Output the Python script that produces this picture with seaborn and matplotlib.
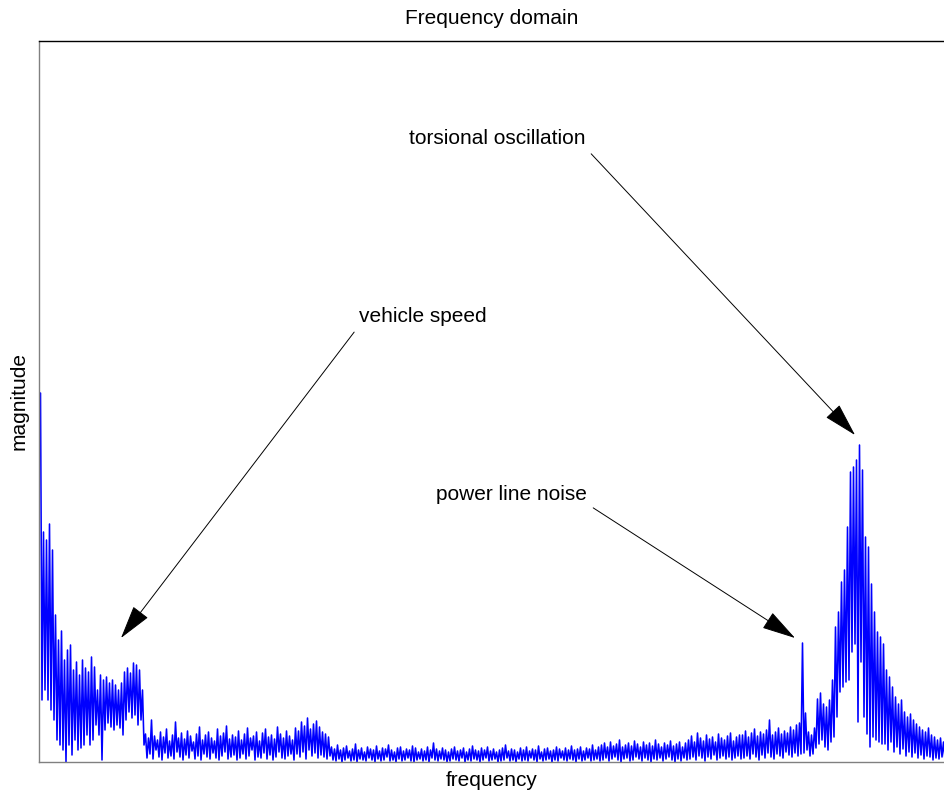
import numpy as np
import pandas as pd
import matplotlib
matplotlib.use("Agg")
import matplotlib.pyplot as plt
import seaborn as sns

# ---- data (magnitude in arbitrary units) ----
# upper (peak) and lower (trough) values of the spectrum, one pair per bin-group
low_band_tops = [369, 230, 222, 238, 212, 147, 122, 131, 102, 112, 117, 92, 100, 87, 102, 94, 90, 105]
low_band_bottoms = [62, 72, 62, 52, 42, 22, 17, 12, 0, 17, 7, 22, 12, 14, 17, 27, 17, 22]

speed_bump_tops = [95, 72, 87, 82, 85, 79, 82, 77, 72, 79, 90, 94, 89, 99, 97, 92, 72]
speed_bump_bottoms = [37, 27, 2, 32, 39, 35, 32, 37, 34, 27, 42, 50, 44, 47, 37, 42, 17]

floor1_tops = [28, 24, 42, 26, 22, 30, 25, 33, 21, 27, 40, 24, 29, 23, 31, 26, 20, 28, 35, 22,
               27, 30, 24, 21, 33, 26, 29, 36, 23, 27, 25, 31, 22, 28, 34, 24, 26, 30, 21, 29,
               33, 25, 27, 23, 35, 28, 24, 31, 26, 22]
floor1_bottoms = [4, 8, 3, 12, 5, 2, 9, 4, 6, 3, 10, 5, 2, 7, 4, 11, 3, 6, 2, 8,
                  5, 3, 9, 4, 2, 6, 10, 3, 5, 7, 2, 4, 8, 3, 6, 12, 2, 5, 4, 9,
                  3, 7, 2, 5, 10, 4, 3, 6, 8, 2]

mid_bump_tops = [34, 31, 40, 36, 44, 33, 38, 41, 35, 30, 28, 25]
mid_bump_bottoms = [8, 5, 10, 3, 12, 6, 9, 4, 7, 5, 3, 6]

floor2_tops = [15, 13, 17, 12, 14, 16, 11, 13, 18, 12, 14, 10, 15, 13, 12, 16, 11, 14, 13, 17,
               12, 10, 14, 15, 11, 13, 12, 16, 14, 10, 13, 11, 15, 12, 19, 13, 11, 14, 12, 10,
               13, 15, 11, 12, 14, 10, 13, 16, 12, 11, 14, 12, 15, 11, 13, 10, 12, 14, 17, 11,
               13, 12, 10, 14, 12, 15, 11, 13, 12, 16, 10, 13, 14, 11, 12, 15, 13, 11, 14, 12,
               16, 12, 13, 15, 11, 14, 13, 17, 12, 15]
floor2_bottoms = [2, 1, 3, 0, 2, 4, 1, 2, 0, 3, 2, 1, 4, 2, 0, 3, 1, 2, 5, 1,
                  2, 0, 3, 1, 2, 4, 1, 0, 2, 3, 1, 2, 0, 4, 2, 1, 3, 2, 0, 1,
                  3, 2, 1, 4, 0, 2, 1, 3, 2, 0, 2, 4, 1, 2, 3, 0, 1, 2, 4, 1,
                  2, 0, 3, 1, 2, 1, 4, 2, 0, 3, 1, 2, 3, 0, 2, 1, 4, 2, 1, 3,
                  2, 0, 3, 1, 2, 4, 1, 2, 3, 1]

rise1_tops = [17, 19, 15, 20, 16, 18, 22, 15, 17, 19, 16, 21, 18, 15, 20, 17, 19, 16, 22, 18,
              15, 19, 17, 21, 16, 18, 20, 15, 19]
rise1_bottoms = [2, 4, 1, 3, 5, 2, 0, 3, 4, 1, 2, 5, 3, 1, 4, 2, 0, 3, 2, 4,
                 1, 3, 5, 2, 0, 3, 1, 4, 2]

rise2_tops = [22, 26, 20, 29, 24, 21, 27, 23, 25, 20, 28, 24, 22, 26, 29, 21, 25, 27]
rise2_bottoms = [3, 5, 2, 6, 4, 1, 5, 3, 7, 2, 4, 6, 3, 5, 2, 4, 6, 3]

rise3_tops = [27, 31, 25, 29, 33, 26, 30, 28, 32, 42, 27, 30, 34, 28, 31, 29, 35, 32, 37, 39]
rise3_bottoms = [4, 6, 3, 8, 5, 2, 7, 4, 9, 5, 3, 8, 6, 4, 10, 7, 5, 9, 6, 8]

power_line_tops = [119, 49, 30, 27, 34, 63, 69, 58, 55, 62, 82, 135]
power_line_bottoms = [9, 12, 6, 8, 14, 18, 22, 15, 12, 20, 25, 45]

torsion_tops = [150, 180, 192, 235, 290, 295, 302, 317, 292, 225, 215, 178, 150, 130, 125]
torsion_bottoms = [70, 75, 80, 82, 110, 118, 40, 100, 45, 28, 15, 25, 22, 20, 18]

tail_tops = [118, 92, 85, 75, 65, 58, 62, 50, 45, 48, 42, 38, 35, 32, 30, 34, 27, 25, 22, 24, 20]
tail_bottoms = [18, 12, 20, 10, 15, 8, 13, 6, 10, 5, 9, 4, 7, 3, 6, 5, 2, 4, 3, 5, 2]

title = "Frequency domain"
xlabel = "frequency"
ylabel = "magnitude"
annotations = ["torsional oscillation", "vehicle speed", "power line noise"]

# ---- assemble the series ----
tops = (low_band_tops + speed_bump_tops + floor1_tops + mid_bump_tops + floor2_tops
        + rise1_tops + rise2_tops + rise3_tops + power_line_tops + torsion_tops + tail_tops)
bottoms = (low_band_bottoms + speed_bump_bottoms + floor1_bottoms + mid_bump_bottoms
           + floor2_bottoms + rise1_bottoms + rise2_bottoms + rise3_bottoms
           + power_line_bottoms + torsion_bottoms + tail_bottoms)
mag = np.column_stack([tops, bottoms]).ravel().astype(float)
freq = 1.5 + np.arange(len(mag)) * 1.5
df = pd.DataFrame({"frequency": freq, "magnitude": mag})

# ---- plot ----
sns.set_style("white")
plt.rcParams["font.family"] = ["Liberation Sans", "DejaVu Sans"]
plt.rcParams["text.color"] = "black"
plt.rcParams["axes.labelcolor"] = "black"

W, H = 944, 796
fig = plt.figure(figsize=(W / 100, H / 100), dpi=100)
ax = fig.add_axes([39 / W, (H - 762) / H, (W - 39) / W, (762 - 41) / H])

sns.lineplot(data=df, x="frequency", y="magnitude", ax=ax, color="#0000ff",
             linewidth=1.15, estimator=None, sort=False)

ax.set_xlim(0, 905)
ax.set_ylim(0, 721)
ax.set_xticks([])
ax.set_yticks([])

for side in ["top", "left", "bottom", "right"]:
    ax.spines[side].set_linewidth(1.0)
ax.spines["top"].set_color("black")
ax.spines["left"].set_color("#808080")
ax.spines["bottom"].set_color("#808080")
ax.spines["right"].set_visible(False)

fs = 15
ax.set_title(title, fontsize=fs, pad=12, color="black")
ax.set_xlabel(xlabel, fontsize=fs, color="black")
ax.set_ylabel(ylabel, fontsize=fs, color="black")
ax.xaxis.set_label_coords(0.5, -0.013)
ax.yaxis.set_label_coords(-0.012, 0.5)

arrow = dict(arrowstyle="-|>,head_length=1.2,head_width=0.33", color="black",
             lw=0.7, mutation_scale=18, shrinkA=3, shrinkB=0)
a1 = dict(arrow, relpos=(1.0, 0.0))
a2 = dict(arrow, relpos=(0.0, 0.0))
ax.annotate(annotations[0], xy=(816, 327), xytext=(458, 624), fontsize=fs,
            ha="center", va="center", color="black", arrowprops=a1)
ax.annotate(annotations[1], xy=(82, 124), xytext=(384, 446), fontsize=fs,
            ha="center", va="center", color="black", arrowprops=a2)
ax.annotate(annotations[2], xy=(756, 124), xytext=(472, 268), fontsize=fs,
            ha="center", va="center", color="black", arrowprops=a1)

fig.savefig("out.png", dpi=100)
